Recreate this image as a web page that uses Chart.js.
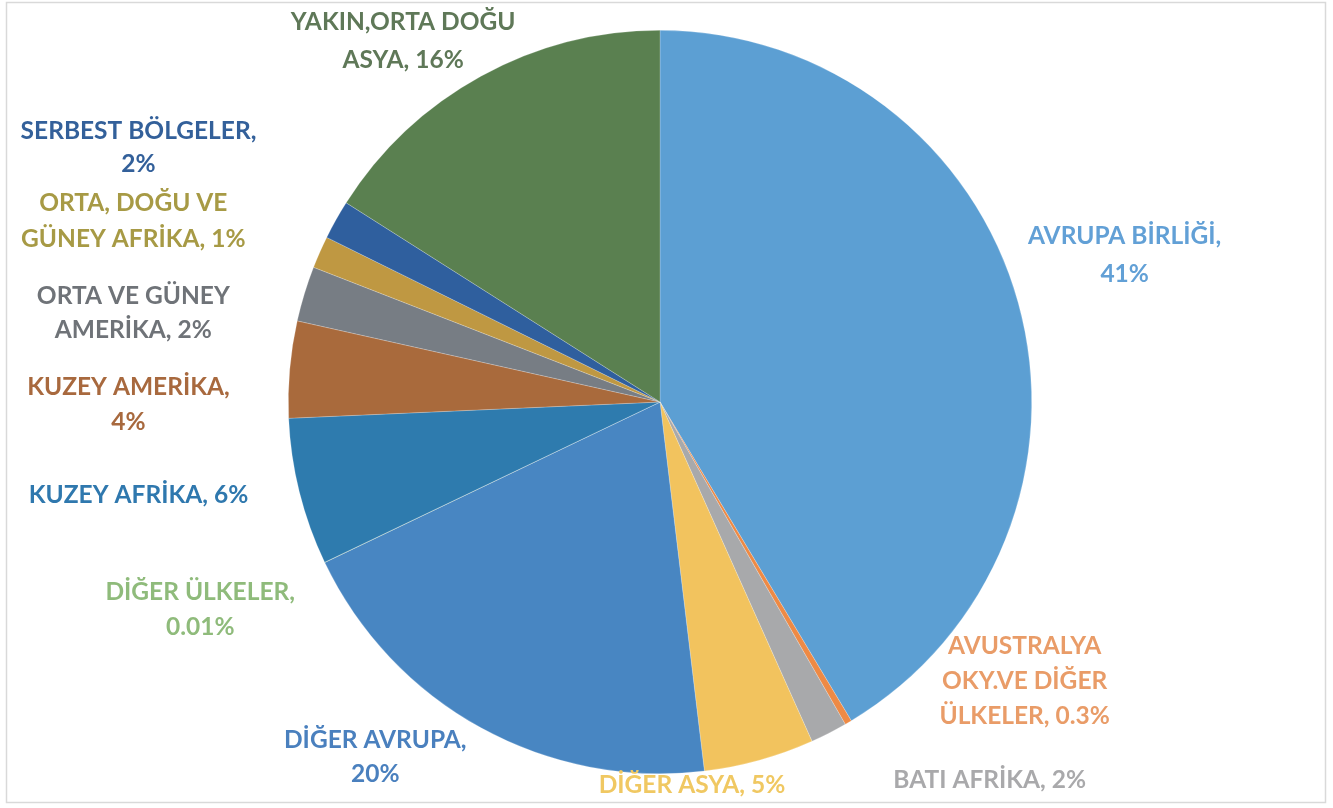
<!DOCTYPE html>
<html><head><meta charset="utf-8">
<script src="https://cdn.jsdelivr.net/npm/chart.js@4"></script>
<style>html,body{margin:0;padding:0;background:#fff;}#wrap{position:relative;width:1333px;height:808px;}</style>
</head><body>
<div id="wrap"><canvas id="c" width="1333" height="808"></canvas></div>
<script>
// Data
const categories = ["AVRUPA BİRLİĞİ","AVUSTRALYA OKY.VE DİĞER ÜLKELER","BATI AFRİKA","DİĞER ASYA","DİĞER AVRUPA","DİĞER ÜLKELER","KUZEY AFRİKA","KUZEY AMERİKA","ORTA VE GÜNEY AMERİKA","ORTA, DOĞU VE GÜNEY AFRİKA","SERBEST BÖLGELER","YAKIN,ORTA DOĞU ASYA"];
const shares = [41.4, 0.3, 1.6, 4.8, 19.8, 0.01, 6.4, 4.2, 2.4, 1.4, 1.7, 16.0];
const percentLabels = ["41%","0.3%","2%","5%","20%","0.01%","6%","4%","2%","1%","2%","16%"];
// Label text as broken into lines (the category name with its percent)
const labelLines = [
  ["AVRUPA BİRLİĞİ,","41%"],
  ["AVUSTRALYA","OKY.VE DİĞER","ÜLKELER, 0.3%"],
  ["BATI AFRİKA, 2%"],
  ["DİĞER ASYA, 5%"],
  ["DİĞER AVRUPA,","20%"],
  ["DİĞER ÜLKELER,","0.01%"],
  ["KUZEY AFRİKA, 6%"],
  ["KUZEY AMERİKA,","4%"],
  ["ORTA VE GÜNEY","AMERİKA, 2%"],
  ["ORTA, DOĞU VE","GÜNEY AFRİKA, 1%"],
  ["SERBEST BÖLGELER,","2%"],
  ["YAKIN,ORTA DOĞU","ASYA, 16%"]
];

// Styles
const sliceColors = ["#5C9FD3","#EE8A45","#A8A9AB","#F2C35E","#4886C2","#70AD47","#2E7BAE","#A96A3C","#777D84","#BF9842","#2F5F9E","#5A8050"];
const labelColors = ["#62A0D6","#E99C68","#A9A9AB","#F0C862","#4A80BE","#8FBB7B","#2F78AE","#A8693E","#6F7378","#A79A45","#33609A","#5F7858"];
// label block centres, in pie-radius units from the pie centre
const labelOffsets = [[1.25,-0.395],[0.981,0.75],[0.887,1.018],[0.086,1.03],[-0.766,0.954],[-1.237,0.559],[-1.403,0.25],[-1.43,0.008],[-1.417,-0.239],[-1.417,-0.487],[-1.403,-0.685],[-0.691,-0.97]];
const lineHeights = [38,35,35,35,34,35,35,35,34,36,33,38];

const labelPlugin = {
  id:'labels',
  afterDatasetsDraw(chart){
    const ctx = chart.ctx;
    const arc = chart.getDatasetMeta(0).data[0];
    const cx = arc.x, cy = arc.y, r = arc.outerRadius;
    ctx.save();
    ctx.font = "bold 24.5px Lato, 'Open Sans', sans-serif";
    ctx.textAlign = 'center';
    ctx.textBaseline = 'middle';
    labelLines.forEach((lines,i)=>{
      const x = cx + labelOffsets[i][0]*r;
      const y0 = cy + labelOffsets[i][1]*r;
      const lh = lineHeights[i];
      const top = y0 - (lines.length-1)*lh/2;
      ctx.fillStyle = labelColors[i];
      lines.forEach((t,j)=>ctx.fillText(t, x, top + j*lh));
    });
    ctx.restore();
  },
  beforeDraw(chart){
    const ctx = chart.ctx;
    ctx.save();
    ctx.fillStyle='#fff';
    ctx.fillRect(0,0,chart.width,chart.height);
    ctx.strokeStyle='#D9D9D9';
    ctx.lineWidth=1.5;
    ctx.strokeRect(6.5,2.5,1319,800);
    ctx.restore();
  }
};

new Chart(document.getElementById('c'),{
  type:'pie',
  data:{labels:categories,datasets:[{data:shares,backgroundColor:sliceColors,borderColor:'rgba(255,255,255,0.35)',borderWidth:0.6}]},
  options:{
    responsive:false,animation:false,
    layout:{padding:{left:288,right:301,top:30,bottom:34}},
    plugins:{legend:{display:false},tooltip:{enabled:false}}
  },
  plugins:[labelPlugin]
});
</script>
</body></html>
